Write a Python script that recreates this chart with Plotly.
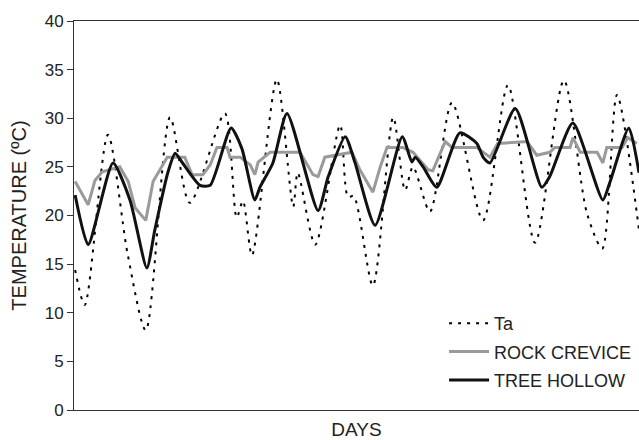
import plotly.graph_objects as go

# Air temperature (Ta) — days, °C
ta_days = [0.02, 0.19, 0.60, 0.95, 1.27, 1.70, 2.05, 2.67, 2.88, 2.99, 3.15, 3.59, 3.88, 3.96, 4.27,
           4.71, 4.85, 4.95, 5.29, 5.65, 5.86, 6.00, 6.30, 6.69, 7.24, 7.68, 8.16, 8.67, 9.08, 9.35,
           9.61, 10.0]
ta_temp = [14.4, 10.8, 28.3, 16.0, 8.2, 30.1, 21.3, 30.5, 19.8, 21.5, 15.9, 34.0, 20.9, 24.4, 17.0,
           29.3, 21.9, 22.0, 12.8, 30.1, 22.6, 25.0, 20.4, 31.6, 19.5, 33.4, 17.2, 33.9, 20.2, 16.6,
           32.4, 18.5]

# Rock crevice — days, °C
rock_days = [0.02, 0.25, 0.37, 0.50, 0.81, 0.96, 1.08, 1.27, 1.40, 1.52, 1.65, 1.96, 2.09, 2.28,
             2.41, 2.53, 2.71, 2.76, 2.94, 3.12, 3.20, 3.26, 3.47, 4.00, 4.23, 4.32, 4.44, 4.92,
             5.06, 5.29, 5.42, 5.54, 5.82, 6.00, 6.27, 6.35, 6.57, 6.69, 7.13, 7.36, 7.50, 8.02,
             8.19, 8.42, 8.51, 8.78, 8.83, 8.96, 9.26, 9.36, 9.43, 9.70, 9.80, 9.96]
rock_temp = [23.5, 21.1, 23.6, 24.5, 25.0, 23.5, 20.8, 19.5, 23.5, 24.7, 26.0, 26.0, 24.2, 24.2,
             25.2, 27.0, 27.0, 26.0, 26.0, 25.2, 24.2, 25.5, 26.5, 26.5, 24.2, 24.0, 26.0, 26.5,
             24.7, 22.4, 25.0, 27.0, 27.0, 26.5, 24.7, 24.6, 27.6, 27.0, 27.0, 26.0, 27.4, 27.6,
             26.2, 26.5, 27.0, 27.0, 28.0, 26.5, 26.5, 25.4, 27.0, 27.0, 28.0, 27.4]

# Tree hollow — days, °C
tree_days = [0.02, 0.25, 0.69, 0.99, 1.29, 1.43, 1.66, 1.79, 1.91, 2.23, 2.41, 2.78, 2.97, 3.20,
             3.29, 3.52, 3.77, 4.32, 4.50, 4.80, 4.97, 5.33, 5.81, 5.98, 6.04, 6.18, 6.42, 6.83,
             7.13, 7.24, 7.36, 7.81, 8.28, 8.42, 8.83, 9.36, 9.49, 9.82, 10.0]
tree_temp = [22.1, 17.0, 25.4, 21.6, 14.6, 18.5, 24.4, 26.4, 25.5, 23.1, 23.1, 29.0, 26.9, 21.6,
             22.9, 25.4, 30.5, 20.5, 24.0, 28.1, 25.5, 19.0, 28.1, 25.5, 26.0, 25.0, 22.9, 28.5,
             27.4, 26.0, 25.4, 31.0, 22.9, 24.0, 29.5, 21.6, 23.5, 29.0, 24.4]

y_ticks = [0, 5, 10, 15, 20, 25, 30, 35, 40]

fig = go.Figure()
fig.add_trace(go.Scatter(x=ta_days, y=ta_temp, mode="lines", name="Ta", legendgroup="a",
                         line=dict(color="black", width=2, dash="3px,6px", shape="spline", smoothing=0.8)))
fig.add_trace(go.Scatter(x=rock_days, y=rock_temp, mode="lines", name="ROCK CREVICE", legendgroup="b",
                         line=dict(color="#9a9a9a", width=3)))
fig.add_trace(go.Scatter(x=tree_days, y=tree_temp, mode="lines", name="TREE HOLLOW", legendgroup="c",
                         line=dict(color="#111111", width=3, shape="spline", smoothing=0.6)))

fig.update_layout(
    width=639, height=440,
    margin=dict(l=74, r=0, t=21, b=30),
    paper_bgcolor="white", plot_bgcolor="white",
    font=dict(family="Liberation Sans, Arial, sans-serif", size=17, color="#222"),
    showlegend=True,
    legend=dict(x=0.655, y=0.27, xanchor="left", yanchor="top", bgcolor="rgba(0,0,0,0)",
                tracegroupgap=2, itemwidth=40, font=dict(size=18)),
    xaxis=dict(range=[0, 10.0], showticklabels=False, ticks="", showgrid=False, zeroline=False,
               showline=True, mirror=True, linecolor="#333", linewidth=1,
               title=dict(text="DAYS", standoff=12, font=dict(size=19))),
    yaxis=dict(range=[0, 40], tickvals=y_ticks, ticks="outside", ticklen=6, tickcolor="#333",
               showgrid=False, zeroline=False, showline=True, linecolor="#333", linewidth=1,
               title=dict(text="TEMPERATURE (ºC)", standoff=12, font=dict(size=20))),
)

fig.write_html("out.html")
